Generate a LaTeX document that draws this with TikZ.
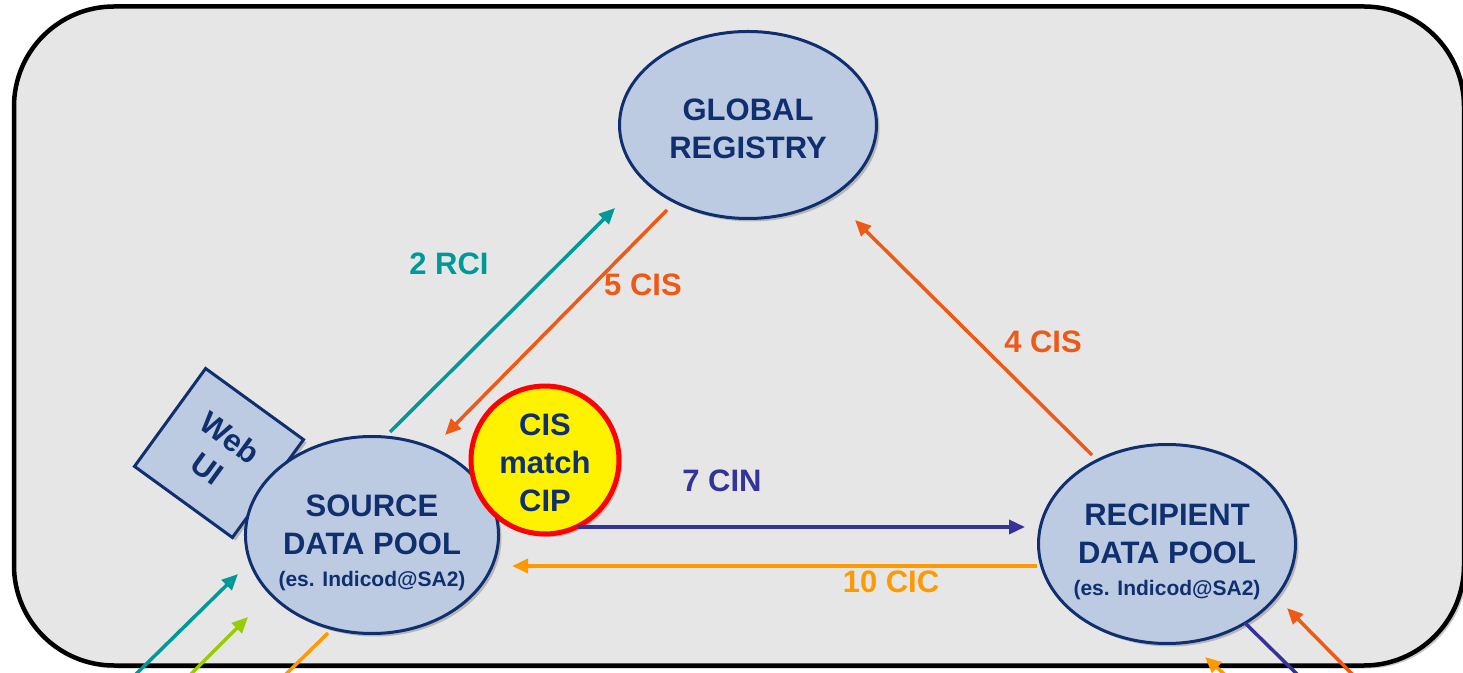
\documentclass[tikz,border=0pt]{standalone}
\usepackage{fontspec}
\setmainfont{Liberation Sans}
\usetikzlibrary{arrows.meta,shapes.geometric,shadows}

\definecolor{poolfill}{HTML}{BCCBE2}
\definecolor{poolline}{HTML}{0F2F6E}
\definecolor{panel}{HTML}{E6E6E6}
\definecolor{rcicol}{HTML}{009999}
\definecolor{ciscol}{HTML}{EE5A16}
\definecolor{cincol}{HTML}{333399}
\definecolor{ciccol}{HTML}{FF9900}
\definecolor{gtincol}{HTML}{99CC00}

\newcommand{\dpfont}{\bfseries\fontsize{31}{38}\selectfont}
\newcommand{\dpnote}{\fontsize{21}{25}\selectfont}

\tikzset{
  softshadow/.style={drop shadow={shadow xshift=3pt,shadow yshift=-3pt,opacity=.3,fill=black!70}},
  pool/.style={ellipse,draw=poolline,line width=3pt,fill=poolfill,text=poolline,
    align=center,font=\dpfont,inner xsep=-4pt,inner ysep=0pt,softshadow},
  flow/.style={line width=3.5pt,-{Triangle[length=16pt,width=14pt]}},
  link/.style={line width=3.5pt},
  lbl/.style={font=\dpfont}
}

\begin{document}
\begin{tikzpicture}[x=1pt,y=1pt]
\useasboundingbox (0,0) rectangle (1463,672);
\fill[white] (0,0) rectangle (1463,672);
\clip (0,0) rectangle (1463,672);
\draw[line width=4.5pt,fill=panel,rounded corners=100pt,softshadow] (14,6.5) rectangle (1464,665.5);

% data pools
\node[draw=poolline,line width=3pt,fill=poolfill,text=poolline,align=center,font=\dpfont,
  minimum size=121pt,rotate=-36,softshadow] (web) at (219,219) {Web\\UI};
\node[pool,minimum width=253pt,minimum height=197pt] (src) at (372,137)
  {\rule{0pt}{37pt}SOURCE\\DATA POOL\\[-6pt]{\dpnote(es. Indicod@SA2)}};
\node[circle,draw=red,line width=5pt,fill=yellow,text=poolline,align=center,font=\dpfont,
  minimum size=147pt,softshadow] (match) at (545,212) {\rule{0pt}{28pt}CIS\\match\\CIP};
\node[pool,minimum width=257pt,minimum height=187pt] (reg) at (748,547)
  {\rule{0pt}{30pt}GLOBAL\\REGISTRY};
\node[pool,minimum width=257pt,minimum height=199pt] (rcp) at (1167,128)
  {\rule{0pt}{37pt}RECIPIENT\\DATA POOL\\[-6pt]{\dpnote(es. Indicod@SA2)}};

% messages
\draw[flow,rcicol] ([shift={(18,103)}]src.center) -- ([shift={(-133,-83)}]reg.center);
\draw[flow,ciscol] ([shift={(-81,-85)}]reg.center) -- ([shift={(73,100)}]src.center);
\draw[flow,ciscol] ([shift={(-75,89)}]rcp.center) -- ([shift={(107,-95)}]reg.center);
\draw[flow,cincol] ([shift={(33,-67)}]match.center) -- ([shift={(-142,17)}]rcp.center);
\draw[flow,ciccol] ([shift={(-130,-22)}]rcp.center) -- ([shift={(140,-31)}]src.center);

\node[lbl,rcicol] (rci) at (449,408) {2 RCI};
\node[lbl,ciscol] (cis5) at (643,387) {5 CIS};
\node[lbl,ciscol] (cis4) at (1043,330) {4 CIS};
\node[lbl,cincol] (cin) at (722,191) {7 CIN};
\node[lbl,ciccol] (cic) at (891,90) {10 CIC};

% lines leaving the panel
\coordinate (inA) at (128,-10);
\coordinate (inB) at (183,-10);
\coordinate (outA) at (278,-10);
\coordinate (outB) at (1305,-10);
\coordinate (inC) at (1360,-10);
\coordinate (inD) at (1233,-10);
\draw[flow,rcicol] (inA) -- ([shift={(-134,-39)}]src.center);
\draw[flow,gtincol] (inB) -- ([shift={(-124,-82)}]src.center);
\draw[link,ciccol] ([shift={(-44,-98)}]src.center) -- (outA);
\draw[link,cincol] ([shift={(78,-79)}]rcp.center) -- (outB);
\draw[flow,ciscol] (inC) -- ([shift={(120,-64)}]rcp.center);
\draw[flow,ciccol] (inD) -- ([shift={(38,-113)}]rcp.center);
\end{tikzpicture}
\end{document}
